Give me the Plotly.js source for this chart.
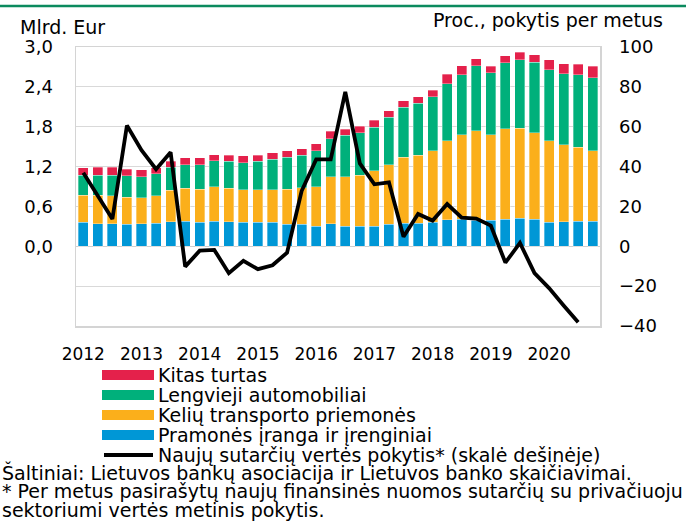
<!DOCTYPE html>
<html>
<head>
<meta charset="utf-8">
<script src="https://cdn.plot.ly/plotly-3.0.1.min.js"></script>
<style>html,body{margin:0;padding:0;background:#fff;}#chart{width:686px;height:530px;}</style>
</head>
<body>
<div id="chart"></div>
<script>
// ---- data ----
const quarters = [];
for (let y = 2012; y <= 2020; y++) for (let q = 1; q <= 4; q++) quarters.push(y + 'Q' + q);

const yearTicks = ['2012Q1','2013Q1','2014Q1','2015Q1','2016Q1','2017Q1','2018Q1','2019Q1','2020Q1'];
const yearLabels = ['2012','2013','2014','2015','2016','2017','2018','2019','2020'];

const pramones = [0.36,0.34,0.34,0.33,0.34,0.35,0.37,0.38,0.36,0.38,0.37,0.36,0.36,0.36,0.33,0.33,0.30,0.34,0.30,0.30,0.30,0.33,0.35,0.35,0.36,0.40,0.41,0.39,0.39,0.41,0.42,0.41,0.36,0.37,0.38,0.38];
const keliu    = [0.41,0.43,0.42,0.41,0.39,0.41,0.47,0.49,0.50,0.52,0.50,0.49,0.49,0.49,0.53,0.55,0.60,0.71,0.75,0.77,0.84,0.90,0.99,1.02,1.08,1.19,1.27,1.35,1.29,1.36,1.36,1.30,1.23,1.16,1.11,1.06];
const lengvieji= [0.30,0.30,0.31,0.32,0.32,0.33,0.35,0.36,0.37,0.39,0.41,0.41,0.43,0.46,0.48,0.49,0.54,0.57,0.62,0.64,0.65,0.71,0.75,0.78,0.81,0.86,0.90,0.98,0.93,0.99,1.03,1.06,1.07,1.07,1.09,1.10];
const kitas    = [0.11,0.12,0.12,0.10,0.10,0.09,0.09,0.10,0.10,0.09,0.09,0.10,0.09,0.10,0.10,0.10,0.10,0.11,0.09,0.10,0.11,0.10,0.10,0.10,0.10,0.14,0.14,0.10,0.10,0.11,0.11,0.11,0.15,0.15,0.16,0.17];
const pokytis  = [36.9,25.7,13.7,60.6,48.2,38.7,47.2,-10.2,-2.2,-1.8,-13.5,-7.3,-11.5,-9.5,-3.2,27.7,43.6,43.6,77.5,41.6,31.1,32.1,4.8,16.2,12.9,21.2,14.4,13.9,10.4,-8.2,1.7,-13.5,-21.0,-29.7,-38.1];

const leftTicks = [-1.2,-0.6,0,0.6,1.2,1.8,2.4,3.0];
const leftLabels = ['','','0,0','0,6','1,2','1,8','2,4','3,0'];
const rightTicks = [-40,-20,0,20,40,60,80,100];
const rightLabels = ['\u221240','\u221220','0','20','40','60','80','100'];

const seriesNames = ['Kitas turtas','Lengvieji automobiliai','Kelių transporto priemonės','Pramonės įranga ir įrenginiai','Naujų sutarčių vertės pokytis* (skalė dešinėje)'];
const footnotes = ['Šaltiniai: Lietuvos bankų asociacija ir Lietuvos banko skaičiavimai.',
  '* Per metus pasirašytų naujų finansinės nuomos sutarčių su privačiuoju',
  'sektoriumi vertės metinis pokytis.'];

// ---- styling ----
const C = {red:'#e4214b', green:'#00b07b', orange:'#fbaf1b', blue:'#0097d6', line:'#000000'};
const FONT = 'DejaVu Sans, Verdana, sans-serif';
const FS_X = 17, FS_Y = 18, FS_T = 19;

const W = 686, H = 530;
const M = {l:76, r:86, t:47, b:204};
const PW = W - M.l - M.r, PH = H - M.t - M.b;
const px = x => (x - M.l) / PW;
const py = y => (M.t + PH - y) / PH;

const barLine = {width:0.6, color:'rgba(255,255,255,0.55)'};
const traces = [
  {type:'bar', x:quarters, y:pramones, name:seriesNames[3], marker:{color:C.blue, line:barLine}},
  {type:'bar', x:quarters, y:keliu, name:seriesNames[2], marker:{color:C.orange, line:barLine}},
  {type:'bar', x:quarters, y:lengvieji, name:seriesNames[1], marker:{color:C.green, line:barLine}},
  {type:'bar', x:quarters, y:kitas, name:seriesNames[0], marker:{color:C.red, line:barLine}},
  {type:'scatter', mode:'lines', x:quarters.slice(0, pokytis.length), y:pokytis, yaxis:'y2', name:seriesNames[4],
   line:{color:C.line, width:3.8, shape:'linear'}}
];

const shapes = [];
const annotations = [];
// top rule
shapes.push({type:'line', xref:'paper', yref:'paper', x0:px(0), x1:px(W), y0:py(6), y1:py(6), line:{color:'#0b8a5e', width:2.5}});

// legend (manual)
const legItems = [
  {name:seriesNames[0], color:C.red, kind:'rect', y:375},
  {name:seriesNames[1], color:C.green, kind:'rect', y:395},
  {name:seriesNames[2], color:C.orange, kind:'rect', y:415},
  {name:seriesNames[3], color:C.blue, kind:'rect', y:435},
  {name:seriesNames[4], color:C.line, kind:'line', y:455}
];
legItems.forEach(it => {
  if (it.kind === 'rect') {
    shapes.push({type:'rect', xref:'paper', yref:'paper', x0:px(102), x1:px(154), y0:py(it.y + 5), y1:py(it.y - 5),
      fillcolor:it.color, line:{width:0}});
  } else {
    shapes.push({type:'line', xref:'paper', yref:'paper', x0:px(104), x1:px(153), y0:py(it.y), y1:py(it.y),
      line:{color:it.color, width:4}});
  }
  annotations.push({xref:'paper', yref:'paper', x:px(156), y:py(it.y), xanchor:'left', yanchor:'middle',
    text:it.name, showarrow:false, font:{family:FONT, size:FS_T, color:'#000'}});
});
const footY = [472, 491, 510];
footnotes.forEach((t, i) => annotations.push({xref:'paper', yref:'paper', x:px(0), y:py(footY[i]), xanchor:'left', yanchor:'middle',
  text:t, showarrow:false, font:{family:FONT, size:FS_T, color:'#000'}}));

annotations.push({xref:'paper', yref:'paper', x:px(18), y:py(27), xanchor:'left', yanchor:'middle',
  text:'Mlrd. Eur', showarrow:false, font:{family:FONT, size:FS_T, color:'#000'}});
annotations.push({xref:'paper', yref:'paper', x:px(665), y:py(20), xanchor:'right', yanchor:'middle',
  text:'Proc., pokytis per metus', showarrow:false, font:{family:FONT, size:FS_T, color:'#000'}});

const layout = {
  width:W, height:H,
  margin:M,
  paper_bgcolor:'#fff', plot_bgcolor:'#fff',
  barmode:'stack', bargap:0.31,
  showlegend:false,
  font:{family:FONT, size:FS_T, color:'#000'},
  xaxis:{type:'category', categoryarray:quarters, range:[-0.5, 35.5], tickmode:'array', tickvals:yearTicks, ticktext:yearLabels,
    showgrid:false, showline:true, mirror:true, linecolor:'#d4d4d4', linewidth:1.5, ticks:'', ticklabelstandoff:12,
    tickfont:{family:FONT, size:FS_X, color:'#000'}, zeroline:false, fixedrange:true},
  yaxis:{range:[-1.2, 3.0], tickmode:'array', tickvals:leftTicks, ticktext:leftLabels, showgrid:true, gridcolor:'#d9d9d9', gridwidth:1.2,
    zeroline:true, zerolinecolor:'#cfcfcf', zerolinewidth:1.5, showline:true, mirror:true, linecolor:'#d4d4d4', linewidth:1.5,
    ticks:'', ticklabelstandoff:18, tickfont:{family:FONT, size:FS_Y, color:'#000'}, fixedrange:true},
  yaxis2:{range:[-40, 100], overlaying:'y', side:'right', tickmode:'array', tickvals:rightTicks, ticktext:rightLabels,
    showgrid:false, zeroline:false, showline:false, ticks:'', ticklabelstandoff:18, tickfont:{family:FONT, size:FS_Y, color:'#000'}, fixedrange:true},
  shapes:shapes,
  annotations:annotations
};

Plotly.newPlot('chart', traces, layout, {displayModeBar:false, staticPlot:true});
</script>
</body>
</html>
